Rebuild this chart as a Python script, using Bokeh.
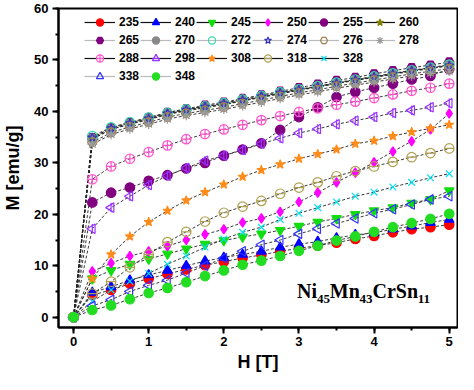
import math
from bokeh.plotting import figure
from bokeh.models import Legend, LegendItem, SingleIntervalTicker, Range1d, Label
from bokeh.embed import file_html
from bokeh.resources import INLINE

# ---------------- data ----------------
H = [0, 0.25, 0.5, 0.75, 1.0, 1.25, 1.5, 1.75, 2.0, 2.25, 2.5,
     2.75, 3.0, 3.25, 3.5, 3.75, 4.0, 4.25, 4.5, 4.75, 5.0]

temps = ["235", "240", "245", "250", "255", "260", "265", "270", "272", "274",
         "276", "278", "288", "298", "308", "318", "328", "338", "348"]

M_235 = [0, 4.3, 5.3, 6.5, 7.5, 8.4, 9.3, 10.1, 10.8, 11.5, 12.1, 12.8, 13.4, 13.9, 14.5, 15.2, 15.8, 16.5, 17.1, 17.5, 18.0]
M_240 = [0, 4.8, 5.9, 7.2, 8.2, 9.1, 10.0, 10.9, 11.6, 12.2, 12.8, 13.6, 14.2, 14.7, 15.4, 16.0, 16.4, 17.1, 17.7, 18.4, 19.0]
M_245 = [0, 7.5, 9.1, 10.3, 11.3, 12.3, 13.3, 14.2, 14.9, 15.6, 16.2, 16.9, 17.7, 18.5, 19.2, 20.0, 20.7, 21.3, 22.2, 22.9, 24.6]
M_250 = [0, 8.9, 10.5, 11.9, 12.8, 13.8, 15.0, 16.1, 17.1, 18.4, 19.2, 20.5, 22.4, 24.2, 26.2, 28.1, 30.1, 32.2, 34.2, 36.5, 39.6]
M_255 = [0, 22.3, 24.2, 25.2, 26.5, 27.6, 28.9, 30.0, 31.4, 32.6, 33.8, 36.4, 38.9, 40.8, 42.8, 43.8, 44.6, 45.4, 46.2, 46.9, 48.2]
M_260 = [0, 34.6, 36.5, 37.5, 38.4, 39.4, 40.1, 40.7, 41.3, 42.0, 42.7, 43.4, 44.1, 44.7, 45.4, 46.0, 46.6, 47.2, 47.8, 48.3, 48.9]
M_265 = [0, 34.9, 36.8, 37.8, 38.8, 39.8, 40.5, 41.2, 41.8, 42.5, 43.2, 43.9, 44.6, 45.3, 46.0, 46.6, 47.3, 47.9, 48.5, 49.0, 49.6]
M_270 = [0, 34.7, 36.5, 37.6, 38.5, 39.5, 40.2, 40.8, 41.4, 42.1, 42.8, 43.5, 44.2, 44.8, 45.5, 46.1, 46.7, 47.3, 47.9, 48.4, 49.0]
M_272 = [0, 35.2, 36.9, 37.9, 38.8, 39.7, 40.4, 41.0, 41.6, 42.3, 43.0, 43.7, 44.3, 44.9, 45.6, 46.2, 46.8, 47.4, 48.0, 48.5, 49.1]
M_274 = [0, 34.9, 36.7, 37.7, 38.6, 39.6, 40.3, 40.9, 41.5, 42.2, 42.9, 43.6, 44.2, 44.8, 45.5, 46.1, 46.7, 47.3, 47.9, 48.4, 48.9]
M_276 = [0, 34.0, 35.9, 37.0, 37.9, 38.9, 39.6, 40.2, 40.8, 41.5, 42.2, 42.9, 43.6, 44.2, 44.9, 45.5, 46.1, 46.7, 47.3, 47.8, 48.3]
M_278 = [0, 33.6, 35.5, 36.6, 37.5, 38.5, 39.2, 39.8, 40.4, 41.1, 41.8, 42.5, 43.2, 43.8, 44.5, 45.1, 45.7, 46.3, 46.9, 47.4, 47.8]
M_288 = [0, 26.8, 29.3, 30.8, 32.1, 33.4, 34.6, 35.6, 36.5, 37.4, 38.3, 39.1, 39.9, 40.6, 41.3, 41.9, 42.6, 43.3, 44.0, 44.6, 45.4]
M_298 = [0, 17.2, 21.3, 23.5, 25.7, 27.5, 29.0, 30.4, 31.4, 32.5, 33.7, 34.8, 35.8, 36.6, 37.5, 38.2, 38.9, 39.7, 40.2, 40.8, 41.6]
M_308 = [0, 7.5, 12.2, 15.7, 18.5, 20.7, 22.7, 24.3, 25.8, 27.3, 28.6, 29.7, 30.8, 31.7, 32.6, 33.7, 34.3, 35.2, 36.0, 36.7, 37.4]
M_318 = [0, 4.6, 6.9, 9.7, 12.2, 14.6, 16.6, 18.6, 20.3, 21.5, 22.6, 24.0, 25.2, 26.2, 27.4, 28.4, 29.3, 30.2, 31.1, 31.9, 32.8]
M_328 = [0, 3.1, 5.3, 7.0, 8.5, 10.3, 11.9, 13.6, 15.2, 16.5, 17.5, 19.0, 20.2, 21.3, 22.4, 23.5, 24.3, 25.3, 26.2, 27.1, 27.9]
M_338 = [0, 2.2, 3.4, 5.0, 6.2, 7.2, 8.6, 10.0, 11.5, 12.8, 14.1, 15.0, 16.2, 17.2, 18.2, 19.2, 20.2, 21.0, 21.9, 22.9, 23.5]
M_348 = [0, 1.4, 2.3, 3.5, 4.7, 5.7, 6.8, 8.0, 9.1, 10.2, 11.0, 11.9, 12.9, 13.9, 14.9, 15.7, 16.6, 17.5, 18.3, 19.1, 20.1]

series = [M_235, M_240, M_245, M_250, M_255, M_260, M_265, M_270, M_272, M_274,
          M_276, M_278, M_288, M_298, M_308, M_318, M_328, M_338, M_348]

# ---------------- styles ----------------
L = math.pi / 2
styles = {
    "235": dict(m=[("circle", 0)], c="#ff0000", fill=True, lc="#111111"),
    "240": dict(m=[("triangle", 0)], c="#0000ff", fill=True, lc="#111111"),
    "245": dict(m=[("inverted_triangle", 0)], c="#11dd11", fill=True, lc="#111111"),
    "250": dict(m=[("diamond", 0)], c="#ff00ff", fill=True, lc="#111111"),
    "255": dict(m=[("circle", 0)], c="#800080", fill=True, lc="#111111"),
    "260": dict(m=[("star", 0)], c="#808000", fill=True, lc="#111111"),
    "265": dict(m=[("hex", 0)], c="#800080", fill=True, lc="#bbbbbb"),
    "270": dict(m=[("circle", 0)], c="#888888", fill=True, lc="#bbbbbb"),
    "272": dict(m=[("circle", 0)], c="#33ddaa", fill=False, lc="#bbbbbb"),
    "274": dict(m=[("star", 0)], c="#3333bb", fill=False, lc="#bbbbbb"),
    "276": dict(m=[("hex", 0)], c="#a08050", fill=False, lc="#bbbbbb"),
    "278": dict(m=[("asterisk", 0)], c="#999999", fill=False, lc="#bbbbbb"),
    "288": dict(m=[("circle_cross", 0)], c="#ff55cc", fill=False, lc="#111111"),
    "298": dict(m=[("triangle", L), ("dash", L)], c="#9933ff", fill=False, lc="#111111"),
    "308": dict(m=[("star", 0)], c="#ff8c1a", fill=True, lc="#111111"),
    "318": dict(m=[("circle", 0), ("dash", 0)], c="#b0a050", fill=False, lc="#111111"),
    "328": dict(m=[("x", 0)], c="#00e0f0", fill=False, lc="#111111"),
    "338": dict(m=[("triangle", L)], c="#3333ff", fill=False, lc="#bbbbbb"),
    "348": dict(m=[("circle", 0)], c="#22dd22", fill=True, lc="#bbbbbb"),
}

p = figure(width=458, height=374, x_range=Range1d(-0.2, 5.11), y_range=Range1d(-2, 60),
           output_backend="svg", toolbar_location=None,
           min_border_left=55, min_border_right=1, min_border_top=8, min_border_bottom=44)

p.xgrid.visible = False
p.ygrid.visible = False
p.outline_line_color = "black"
p.outline_line_width = 2
p.background_fill_color = "white"
p.border_fill_color = "white"

p.xaxis.ticker = SingleIntervalTicker(interval=1, num_minor_ticks=2)
p.yaxis.ticker = SingleIntervalTicker(interval=10, num_minor_ticks=2)
for ax in (p.xaxis[0], p.yaxis[0]):
    ax.axis_line_width = 2
    ax.major_tick_line_width = 2
    ax.minor_tick_line_width = 2
    ax.major_tick_out = 6
    ax.major_tick_in = 0
    ax.minor_tick_out = 3
    ax.minor_tick_in = 0
    ax.major_label_text_font = "Liberation Sans"
    ax.major_label_text_font_style = "bold"
    ax.major_label_text_font_size = "13px"
    ax.major_label_text_color = "black"
    ax.axis_label_text_font = "Liberation Sans"
    ax.axis_label_text_font_style = "bold"
    ax.axis_label_text_font_size = "18px"
    ax.axis_label_text_color = "black"
p.xaxis.axis_label = "H [T]"
p.yaxis.axis_label = "M [emu/g]"
p.xaxis.major_label_standoff = 3
p.xaxis.axis_label_standoff = 3
p.yaxis.major_label_standoff = 4
p.yaxis.axis_label_standoff = 8

# connecting lines
for M in series:
    p.line(H, M, line_color="#222222", line_width=0.9, line_dash="3 2")

# legend-only line samples sit outside the visible ranges
OFF_X = [-10, -9]
OFF_Y = [-50, -50]

items = []
for t, M in zip(temps, series):
    st = styles[t]
    rs = [p.line(OFF_X, OFF_Y, line_color=st["lc"], line_width=1.2)]
    for mk, ang in st["m"]:
        r = p.scatter(H, M, marker=mk, angle=ang, size=9.5,
                      line_color=st["c"], line_width=1.2,
                      fill_color=st["c"] if st["fill"] else None)
        rs.append(r)
    items.append(LegendItem(label=t, renderers=rs))
    if t == "328":
        blank = p.line(OFF_X, OFF_Y, line_alpha=0)
        items.append(LegendItem(label=" ", renderers=[blank]))

legend = Legend(items=items, location=(26, 242), orientation="horizontal", ncols=6,
                glyph_width=31, glyph_height=18, label_standoff=4, label_width=21,
                label_height=18, spacing=0, padding=0, margin=0,
                border_line_color=None, background_fill_alpha=0,
                label_text_font="Liberation Sans", label_text_font_style="bold",
                label_text_font_size="12px", label_text_color="black")
p.add_layout(legend)

# compound formula with subscripts
formula = [("Ni", 2.975, 5.15, "20px"), ("45", 3.239, 3.53, "13px"),
           ("Mn", 3.411, 5.15, "20px"), ("43", 3.806, 3.53, "13px"),
           ("CrSn", 3.978, 5.15, "20px"), ("11", 4.580, 3.53, "13px")]
for txt, fx, fy, fs in formula:
    p.add_layout(Label(x=fx, y=fy, text=txt, text_font="Liberation Serif",
                       text_font_style="bold", text_font_size=fs,
                       text_color="black", text_baseline="alphabetic",
                       text_align="left"))

open("out.html", "w").write(file_html(p, INLINE))
